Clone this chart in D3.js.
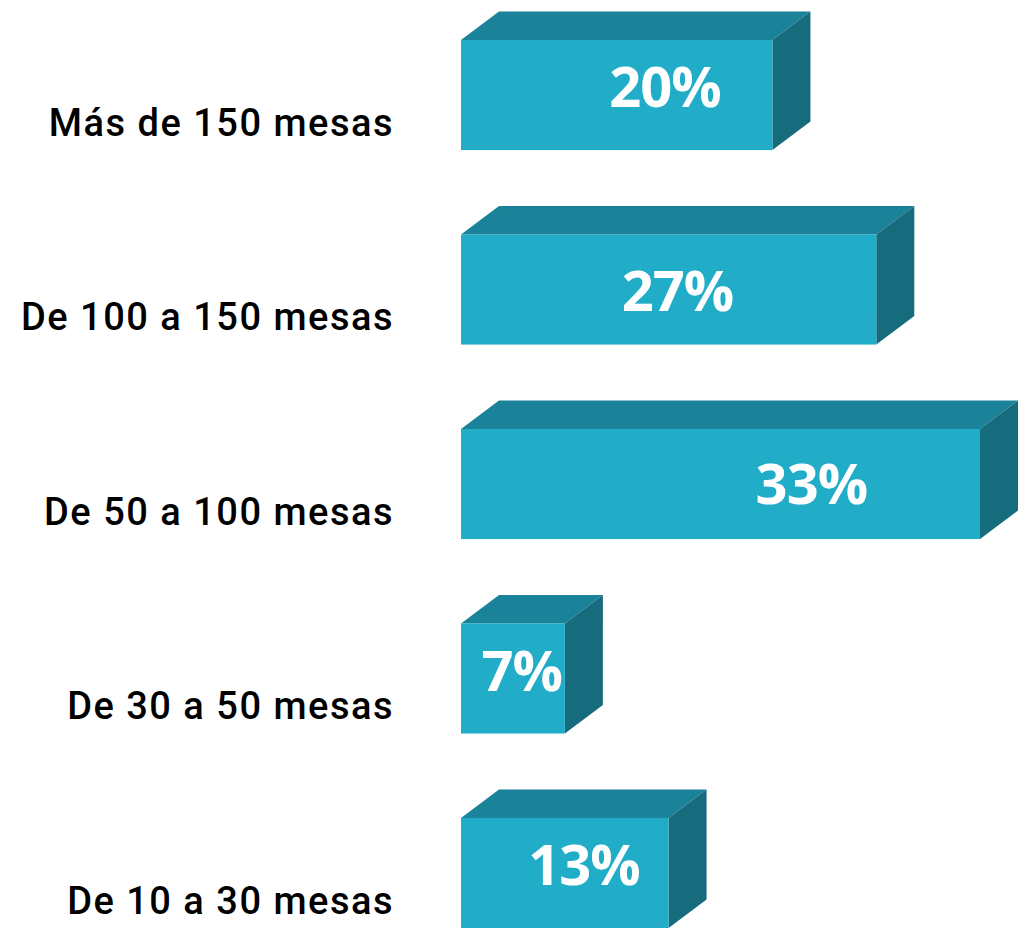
<!DOCTYPE html>
<html>
<head>
<meta charset="utf-8">
<script src="https://cdn.jsdelivr.net/npm/d3@7"></script>
<style>
  html, body { margin: 0; padding: 0; background: #fff; }
  svg { display: block; }
</style>
</head>
<body>
<div class="graph"></div>
<script>
// categories, top to bottom
var categories = ['Más de 150 mesas', 'De 100 a 150 mesas', 'De 50 a 100 mesas', 'De 30 a 50 mesas', 'De 10 a 30 mesas'];
// share of restaurants (%)
var values = [20, 26.67, 33.33, 6.67, 13.33];

// label placement (layout only): along the bar in value units, and baseline below the front top
var labelAt = [13.1, 13.9, 22.5, 3.9, 7.9];
var labelDy = [67, 77, 75, 68, 67];

var width = 1025,
  height = 932,
  depthX = 38,
  depthY = 28.5

var colors = { front: '#21acc8', top: '#1a8399', side: '#166b7d' }

var svg = d3.select('.graph')
  .append('svg')
  .attr('width', width)
  .attr('height', height)

var x = d3.scaleLinear()
  .domain([0, 33.33])
  .range([461, 980])

var y = d3.scaleBand()
  .domain(categories)
  .range([40, 928])
  .paddingInner(0.434)
  .paddingOuter(0)

var bars = svg.append('g')
  .selectAll('g')
  .data(categories)
  .enter().append('g')

// top face
bars.append('path')
  .attr('d', function (d, i) {
    var x0 = x(0), x1 = x(values[i]), t = y(d)
    return 'M' + x0 + ',' + t + 'L' + (x0 + depthX) + ',' + (t - depthY) +
      'L' + (x1 + depthX) + ',' + (t - depthY) + 'L' + x1 + ',' + t + 'Z'
  })
  .style('fill', colors.top)

// side face
bars.append('path')
  .attr('d', function (d, i) {
    var x1 = x(values[i]), t = y(d), b = y(d) + y.bandwidth()
    return 'M' + x1 + ',' + t + 'L' + (x1 + depthX) + ',' + (t - depthY) +
      'L' + (x1 + depthX) + ',' + (b - depthY) + 'L' + x1 + ',' + b + 'Z'
  })
  .style('fill', colors.side)

// front face
bars.append('rect')
  .attr('x', x(0))
  .attr('y', function (d) { return y(d) })
  .attr('width', function (d, i) { return x(values[i]) - x(0) })
  .attr('height', y.bandwidth())
  .style('fill', colors.front)

// value labels
bars.append('text')
  .attr('x', function (d, i) { return x(labelAt[i]) })
  .attr('y', function (d, i) { return y(d) + labelDy[i] })
  .attr('text-anchor', 'middle')
  .style('font-family', "'Open Sans', sans-serif")
  .style('font-weight', 'bold')
  .style('font-size', '56px')
  .style('letter-spacing', '-1px')
  .style('fill', '#fff')
  .text(function (d, i) { return Math.round(values[i]) + '%' })

// category labels
svg.append('g')
  .selectAll('text')
  .data(categories)
  .enter().append('text')
  .attr('x', 394)
  .attr('y', function (d) { return y(d) + 96 })
  .attr('text-anchor', 'end')
  .style('font-family', "'Roboto', sans-serif")
  .style('font-weight', '500')
  .style('font-size', '38px')
  .style('letter-spacing', '1.5px')
  .style('fill', '#000')
  .text(function (d) { return d })
</script>
</body>
</html>
